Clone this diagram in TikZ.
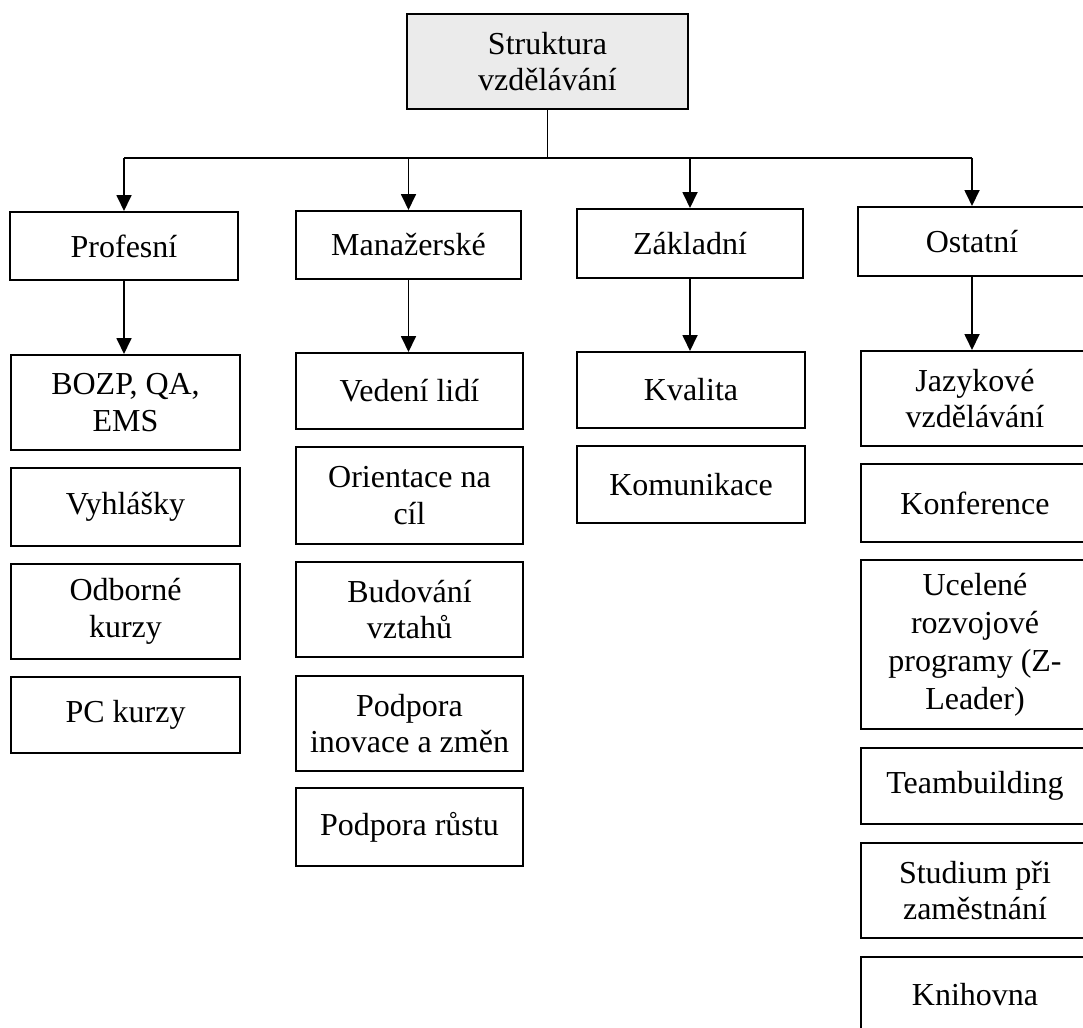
\documentclass[tikz,border=0pt]{standalone}
\usepackage{fontspec}
\setmainfont{Liberation Serif}
\usetikzlibrary{arrows.meta}
\begin{document}
\begin{tikzpicture}[x=1pt,y=-1pt,
  box/.style={draw=black, line width=2pt, inner sep=0pt, align=center,
    font=\fontsize{32}{36.5}\selectfont, anchor=center},
  topbox/.style={box, fill=black!8},
  arr/.style={line width=1.8pt, -{Triangle[width=15pt,length=16pt]}},
  ln/.style={line width=1.8pt}]
\useasboundingbox (0,0) rectangle (1083,1027);
\clip (0,0) rectangle (1083,1027);
\fill[white] (0,0) rectangle (1083,1027);

% root
\node[topbox, minimum width=281pt, minimum height=95pt] (root) at (547.5,61.5) {Struktura\\vzdělávání};

% level 1
\node[box, minimum width=228pt, minimum height=68pt] (prof) at (124,246) {Profesní};
\node[box, minimum width=225pt, minimum height=68pt] (man) at (408.5,245) {Manažerské};
\node[box, minimum width=226pt, minimum height=69pt] (zak) at (690,243.5) {Základní};
\node[box, minimum width=228pt, minimum height=69pt] (ost) at (972,241.5) {Ostatní};

% column 1
\node[box, minimum width=229pt, minimum height=95pt] (bozp) at (125.5,402.5) {BOZP, QA,\\EMS};
\node[box, minimum width=229pt, minimum height=78pt] (vyh) at (125.5,507) {Vyhlášky};
\node[box, minimum width=229pt, minimum height=95pt] (odb) at (125.5,611.5) {Odborné\\kurzy};
\node[box, minimum width=229pt, minimum height=76pt] (pc) at (125.5,715) {PC kurzy};

% column 2
\node[box, minimum width=227pt, minimum height=76pt] (ved) at (409.5,391) {Vedení lidí};
\node[box, minimum width=227pt, minimum height=97pt] (ori) at (409.5,495.5) {Orientace na\\cíl};
\node[box, minimum width=227pt, minimum height=95pt] (bud) at (409.5,609.5) {Budování\\vztahů};
\node[box, minimum width=227pt, minimum height=95pt] (ino) at (409.5,723.5) {Podpora\\inovace a změn};
\node[box, minimum width=227pt, minimum height=78pt] (rus) at (409.5,827) {Podpora růstu};

% column 3
\node[box, minimum width=228pt, minimum height=76pt] (kva) at (691,390) {Kvalita};
\node[box, minimum width=228pt, minimum height=77pt] (kom) at (691,484.5) {Komunikace};

% column 4
\node[box, minimum width=228pt, minimum height=95pt] (jaz) at (975,398.5) {Jazykové\\vzdělávání};
\node[box, minimum width=228pt, minimum height=78pt] (konf) at (975,503) {Konference};
\node[box, minimum width=228pt, minimum height=169pt, font=\fontsize{32}{38}\selectfont] (uce) at (975,644.5) {Ucelené\\rozvojové\\programy (Z-\\Leader)};
\node[box, minimum width=228pt, minimum height=76pt] (team) at (975,786) {Teambuilding};
\node[box, minimum width=228pt, minimum height=95pt] (stud) at (975,890.5) {Studium při\\zaměstnání};
\node[box, minimum width=228pt, minimum height=76pt] (kni) at (975,995) {Knihovna};

% connectors
\coordinate (bar) at (547.5,158);
\draw[ln] (root.south) -- (bar);
\draw[ln] (bar) -- (bar -| prof.north) coordinate (barL);
\draw[ln] (bar) -- (bar -| ost.north) coordinate (barR);
\draw[arr] (barL) -- (prof.north);
\draw[arr] (bar -| man.north) -- (man.north);
\draw[arr] (bar -| zak.north) -- (zak.north);
\draw[arr] (barR) -- (ost.north);

\draw[arr] (prof.south) -- (prof.south |- bozp.north);
\draw[arr] (man.south) -- (man.south |- ved.north);
\draw[arr] (zak.south) -- (zak.south |- kva.north);
\draw[arr] (ost.south) -- (ost.south |- jaz.north);
\end{tikzpicture}
\end{document}
